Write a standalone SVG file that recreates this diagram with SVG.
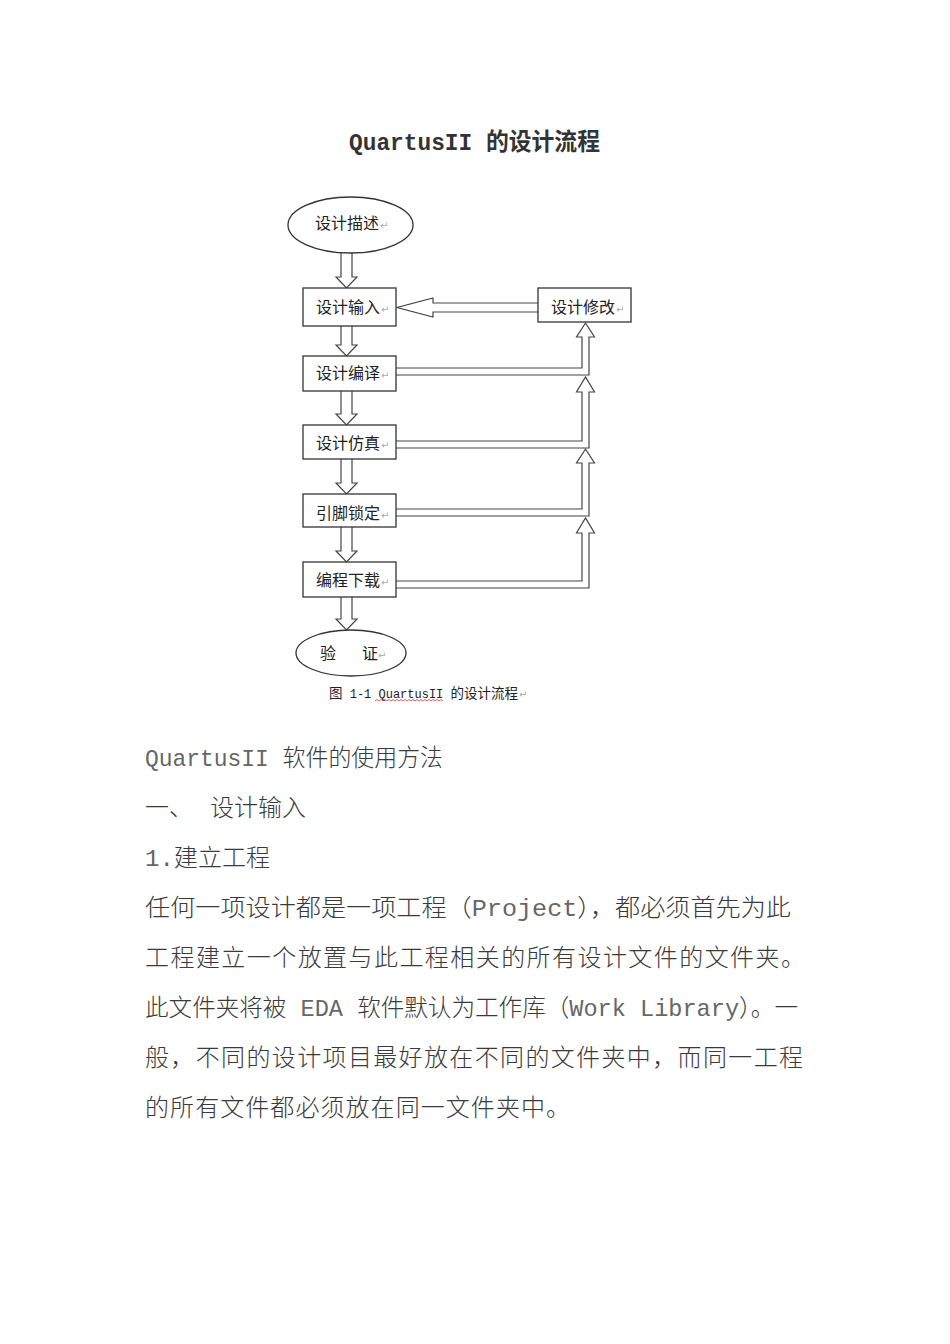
<svg xmlns="http://www.w3.org/2000/svg" width="950" height="1344" viewBox="0 0 950 1344">
<style>
.box{fill:#fff;stroke:#333;stroke-width:1.3}
.conn{fill:#fff;stroke:#444;stroke-width:1.2;stroke-linejoin:miter}
.lbl{font-family:"Noto Sans CJK SC",sans-serif;font-size:16px;fill:#222}
.ret{font-family:"DejaVu Sans",sans-serif;font-size:10px;fill:#aaa}
.body{font-family:"Liberation Mono","Noto Sans CJK SC",monospace;font-size:24px;fill:#3a3a3a;font-weight:300}
.lat{fill:#666;font-weight:normal}
.title{font-family:"Liberation Mono","Noto Sans CJK SC",monospace;font-size:24px;fill:#333;font-weight:bold}
.cap{font-family:"Liberation Mono","Noto Sans CJK SC",monospace;font-size:13.5px;fill:#222}
.capl{font-size:12px}
</style>
<rect width="950" height="1344" fill="#fff"/>
<text class="title" x="349" y="150" textLength="251" lengthAdjust="spacingAndGlyphs">QuartusII 的设计流程</text>
<g id="connectors">
<path class="conn" d="M341,252 V277 H336 L346.5,288 L357,277 H352 V252"/>
<path class="conn" d="M341,326 V345 H336 L346.5,356 L357,345 H352 V326"/>
<path class="conn" d="M341,391 V414 H336 L346.5,425 L357,414 H352 V391"/>
<path class="conn" d="M341,459 V483 H336 L346.5,494 L357,483 H352 V459"/>
<path class="conn" d="M341,527 V551 H336 L346.5,562 L357,551 H352 V527"/>
<path class="conn" d="M341,597 V619 H336 L346.5,630 L357,619 H352 V597"/>
<path class="conn" d="M538,303 H433 V298 L397,307.5 L433,317 V312 H538"/>
<path class="conn" d="M396,368 H582 V337 H576.5 L585.5,323 L594.5,337 H589 V375 H396"/>
<path class="conn" d="M396,441 H582 V392 H576.5 L585.5,377 L594.5,392 H589 V448 H396"/>
<path class="conn" d="M396,509 H582 V463 H576.5 L585.5,449 L594.5,463 H589 V516 H396"/>
<path class="conn" d="M396,581 H582 V533 H576.5 L585.5,518 L594.5,533 H589 V588 H396"/>
</g>
<g id="n-start">
<ellipse class="box" cx="350.5" cy="225" rx="62.5" ry="28"/>
<text class="lbl" x="315" y="229">设计描述</text><text class="ret" x="380" y="229">↵</text>
</g>
<g id="n-input">
<rect class="box" x="303" y="288" width="93" height="38"/>
<text class="lbl" x="316" y="313">设计输入</text><text class="ret" x="381" y="313">↵</text>
</g>
<g id="n-modify">
<rect class="box" x="538" y="288" width="93" height="34"/>
<text class="lbl" x="551" y="313">设计修改</text><text class="ret" x="616" y="313">↵</text>
</g>
<g id="n-compile">
<rect class="box" x="303" y="356" width="93" height="35"/>
<text class="lbl" x="316" y="379">设计编译</text><text class="ret" x="381" y="379">↵</text>
</g>
<g id="n-sim">
<rect class="box" x="303" y="425" width="93" height="34"/>
<text class="lbl" x="316" y="449">设计仿真</text><text class="ret" x="381" y="449">↵</text>
</g>
<g id="n-pin">
<rect class="box" x="303" y="494" width="93" height="33"/>
<text class="lbl" x="316" y="519">引脚锁定</text><text class="ret" x="381" y="519">↵</text>
</g>
<g id="n-download">
<rect class="box" x="303" y="562" width="93" height="35"/>
<text class="lbl" x="316" y="586">编程下载</text><text class="ret" x="381" y="586">↵</text>
</g>
<g id="n-verify">
<ellipse class="box" cx="351" cy="653" rx="55" ry="23"/>
<text class="lbl" x="320" y="659">验</text><text class="lbl" x="362" y="659">证</text><text class="ret" x="378" y="659">↵</text>
</g>
<g id="caption">
<text class="cap" x="329" y="698">图<tspan class="capl"> 1-1 QuartusII </tspan>的设计流程</text>
<text class="ret" x="519" y="698">↵</text>
<path d="M375,701 l2,-1.5 l2,1.5 l2,-1.5 l2,1.5 l2,-1.5 l2,1.5 l2,-1.5 l2,1.5 l2,-1.5 l2,1.5 l2,-1.5 l2,1.5 l2,-1.5 l2,1.5 l2,-1.5 l2,1.5 l2,-1.5 l2,1.5 l2,-1.5 l2,1.5 l2,-1.5 l2,1.5 l2,-1.5 l2,1.5 l2,-1.5 l2,1.5 l2,-1.5 l2,1.5 l2,-1.5 l2,1.5 l2,-1.5 l2,1.5 l2,-1.5 l2,1.5" fill="none" stroke="#d33" stroke-width="0.8"/>
</g>
<g id="body">
<text class="body" x="145" y="766" textLength="298" lengthAdjust="spacingAndGlyphs"><tspan class="lat">QuartusII </tspan>软件的使用方法</text>
<text class="body" x="145" y="816">一、</text><text class="body" x="210" y="816">设计输入</text>
<text class="body" x="145" y="866" textLength="125" lengthAdjust="spacingAndGlyphs"><tspan class="lat">1.</tspan>建立工程</text>
<text class="body" x="145" y="916" textLength="646" lengthAdjust="spacingAndGlyphs">任何一项设计都是一项工程（<tspan class="lat">Project</tspan>），都必须首先为此</text>
<text class="body" x="145" y="966" textLength="660" lengthAdjust="spacing">工程建立一个放置与此工程相关的所有设计文件的文件夹。</text>
<text class="body" x="145" y="1016" textLength="653" lengthAdjust="spacingAndGlyphs">此文件夹将被<tspan class="lat"> EDA </tspan>软件默认为工作库（<tspan class="lat">Work Library</tspan>）。一</text>
<text class="body" x="145" y="1066" textLength="658" lengthAdjust="spacing">般，不同的设计项目最好放在不同的文件夹中，而同一工程</text>
<text class="body" x="145" y="1116" textLength="425" lengthAdjust="spacing">的所有文件都必须放在同一文件夹中。</text>
</g>
</svg>
